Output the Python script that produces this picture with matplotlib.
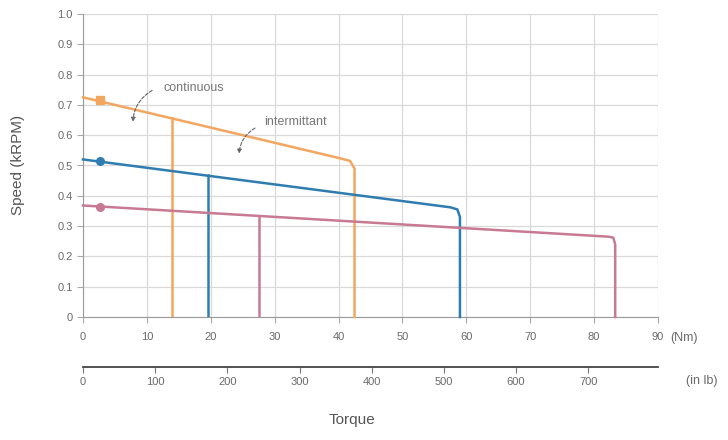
import matplotlib
matplotlib.use("Agg")
import matplotlib.pyplot as plt
import numpy as np

plt.rcParams['font.family'] = ['Liberation Sans', 'DejaVu Sans']

# Data (torque in Nm, speed in kRPM)
orange_x = [0, 40, 41.8, 42.5, 42.5]
orange_y = [0.725, 0.525, 0.515, 0.49, 0]
blue_x = [0, 57.5, 58.6, 59.0, 59.0]
blue_y = [0.52, 0.362, 0.355, 0.33, 0]
pink_x = [0, 82.3, 83.0, 83.3, 83.3]
pink_y = [0.368, 0.265, 0.262, 0.24, 0]

cont_x = [14, 19.5, 27.5]
cont_top = [0.656, 0.468, 0.334]

marker_x = [2.7, 2.7, 2.7]
marker_y = [0.716, 0.515, 0.362]

colors = ['#f3a660', '#2f7db0', '#c77a92']
markers = ['s', 'o', 'o']

x_ticks = [0, 10, 20, 30, 40, 50, 60, 70, 80, 90]
y_ticks = [0, 0.1, 0.2, 0.3, 0.4, 0.5, 0.6, 0.7, 0.8, 0.9, 1.0]
y_labels = ['0', '0.1', '0.2', '0.3', '0.4', '0.5', '0.6', '0.7', '0.8', '0.9', '1.0']
inlb_ticks = [0, 100, 200, 300, 400, 500, 600, 700]
NM_TO_INLB = 8.8507

fig = plt.figure(figsize=(7.28, 4.4), dpi=100)
ax = fig.add_axes([83/728, 1-317/440, (658-83)/728, (317-14)/440])

txt = '#6a6a6a'
ax.set_xlim(0, 90)
ax.set_ylim(0, 1.0)
ax.set_xticks(x_ticks)
ax.set_yticks(y_ticks)
ax.set_yticklabels(y_labels)
ax.grid(True, color='#d9d9d9', linewidth=0.9)
ax.set_axisbelow(True)
for s in ['top', 'right']:
    ax.spines[s].set_visible(False)
ax.spines['left'].set_color('#9a9a9a')
ax.spines['bottom'].set_color('#9a9a9a')
ax.tick_params(axis='both', colors='#aaaaaa', labelcolor=txt, labelsize=8, length=4)
ax.tick_params(axis='x', pad=7)

for xs, ys, c, mx, my, m, cx, ct in zip([orange_x, blue_x, pink_x],
                                        [orange_y, blue_y, pink_y],
                                        colors, marker_x, marker_y, markers,
                                        cont_x, cont_top):
    ax.plot(xs, ys, color=c, lw=1.8, solid_joinstyle='round', clip_on=False, zorder=3)
    ax.plot([cx, cx], [0, ct], color=c, lw=1.8, zorder=3)
    ax.plot([mx], [my], marker=m, color=c, ms=5.5, zorder=4)

# Annotations
ax.text(12.6, 0.757, 'continuous', fontsize=9, color='#777777', va='center', ha='left')
ax.text(28.4, 0.645, 'intermittant', fontsize=9, color='#777777', va='center', ha='left')
ax.annotate('', xy=(7.8, 0.635), xytext=(11.2, 0.752),
            arrowprops=dict(arrowstyle='-|>', color='#666666', lw=0.8,
                            linestyle=(0, (3, 1.5)), mutation_scale=6,
                            connectionstyle='arc3,rad=0.3'))
ax.annotate('', xy=(24.4, 0.53), xytext=(27.3, 0.628),
            arrowprops=dict(arrowstyle='-|>', color='#666666', lw=0.8,
                            linestyle=(0, (3, 1.5)), mutation_scale=6,
                            connectionstyle='arc3,rad=0.3'))

# Secondary axis (in lb)
sec = ax.secondary_xaxis(-50/303, functions=(lambda v: v*NM_TO_INLB, lambda v: v/NM_TO_INLB))
sec.set_xticks(inlb_ticks)
sec.spines['bottom'].set_color('#444444')
sec.spines['bottom'].set_linewidth(1.3)
sec.tick_params(colors='#777777', labelcolor=txt, labelsize=8, length=4, pad=3)

fig.text(670/728, 1-338/440, '(Nm)', fontsize=9, color=txt, va='center', ha='left')
fig.text(686/728, 1-381/440, '(in lb)', fontsize=9, color=txt, va='center', ha='left')
fig.text(352/728, 1-420/440, 'Torque', fontsize=11, color='#555555', va='center', ha='center')
fig.text(18/728, 1-165/440, 'Speed (kRPM)', fontsize=11, color='#555555', va='center', ha='center', rotation=90)

fig.savefig('out.png', dpi=100)
